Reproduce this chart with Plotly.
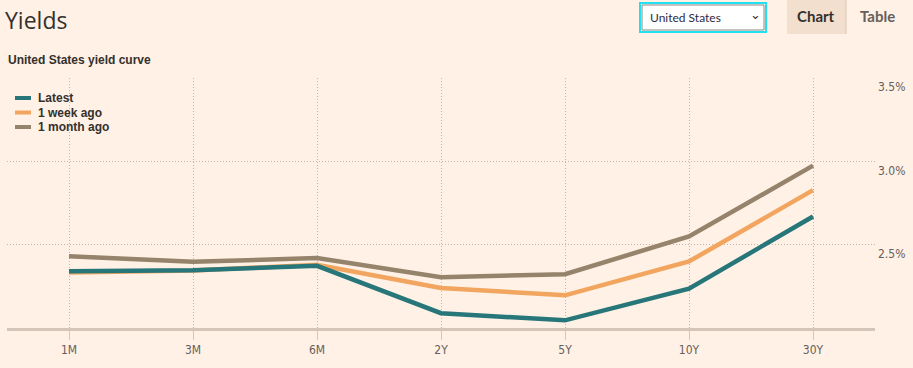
import plotly.graph_objects as go

categories = ["1M", "3M", "6M", "2Y", "5Y", "10Y", "30Y"]
latest = [2.34, 2.347, 2.373, 2.089, 2.046, 2.236, 2.669]
week_ago = [2.333, 2.345, 2.379, 2.24, 2.196, 2.399, 2.827]
month_ago = [2.43, 2.397, 2.42, 2.305, 2.323, 2.549, 2.974]
ytick_vals = [2.5, 3.0, 3.5]
ytick_text = ["2.5%", "3.0%", "3.5%"]

W, H = 913, 368
L, R, T, B = 7, 38, 78, 40
pw, ph = W - L - R, H - T - B


def px(x):
    return (x - L) / pw


def py(y):
    return (H - B - y) / ph


fig = go.Figure()
series = [("Latest", latest, "#26767a"), ("1 week ago", week_ago, "#f2a55e"),
          ("1 month ago", month_ago, "#96836b")]
# draw older series first so "Latest" sits on top
for name, vals, col in reversed(series):
    fig.add_trace(go.Scatter(x=categories, y=vals, name=name, mode="lines",
                             line=dict(color=col, width=4.5), showlegend=False))

shapes = [
    # dropdown
    dict(type="rect", xref="paper", yref="paper", x0=px(640), x1=px(766), y0=py(32), y1=py(3),
         line=dict(color="#1fe1f0", width=2), fillcolor="#ffffff", layer="above"),
    dict(type="rect", xref="paper", yref="paper", x0=px(642), x1=px(764), y0=py(30), y1=py(5),
         line=dict(color="#8a8580", width=1), fillcolor="#ffffff", layer="above"),
    # chart button
    dict(type="rect", xref="paper", yref="paper", x0=px(787), x1=px(846), y0=py(34), y1=py(0),
         line=dict(width=0), fillcolor="#f2dfce", layer="above"),
    dict(type="line", xref="paper", yref="paper", x0=px(846), x1=px(846), y0=py(34), y1=py(0),
         line=dict(color="#d9c8b8", width=1), layer="above"),
]

annotations = [
    dict(text="Yields", xref="paper", yref="paper", x=px(3), y=py(20), xanchor="left", yanchor="middle",
         showarrow=False, font=dict(family="Open Sans", size=23, color="#33302e")),
    dict(text="<b>United States yield curve</b>", xref="paper", yref="paper", x=px(6), y=py(60),
         xanchor="left", yanchor="middle", showarrow=False,
         font=dict(family="Liberation Sans", size=12, color="#33302e")),
    dict(text="United States", xref="paper", yref="paper", x=px(648), y=py(17), xanchor="left",
         yanchor="middle", showarrow=False, font=dict(family="Lato", size=12, color="#2e2a45")),
    dict(text="⌄", xref="paper", yref="paper", x=px(755), y=py(14), xanchor="center",
         yanchor="middle", showarrow=False, font=dict(family="DejaVu Sans", size=13, color="#33302e")),
    dict(text="<b>Chart</b>", xref="paper", yref="paper", x=px(816), y=py(16), xanchor="center",
         yanchor="middle", showarrow=False, font=dict(family="Lato", size=15, color="#33302e")),
    dict(text="<b>Table</b>", xref="paper", yref="paper", x=px(877), y=py(16), xanchor="center",
         yanchor="middle", showarrow=False, font=dict(family="Lato", size=15, color="#66605c")),
]

# legend drawn as swatches + labels
for i, (name, vals, col) in enumerate(series):
    yy = 98 + i * 14.5
    shapes.append(dict(type="line", xref="paper", yref="paper", x0=px(15), x1=px(31), y0=py(yy), y1=py(yy),
                       line=dict(color=col, width=4)))
    annotations.append(dict(text="<b>%s</b>" % name, xref="paper", yref="paper", x=px(36), y=py(yy),
                            xanchor="left", yanchor="middle", showarrow=False,
                            font=dict(family="Liberation Sans", size=12, color="#33302e")))

fig.update_layout(
    width=W, height=H,
    margin=dict(l=L, r=R, t=T, b=B),
    paper_bgcolor="#fff1e5", plot_bgcolor="#fff1e5",
    shapes=shapes, annotations=annotations,
    showlegend=False,
    xaxis=dict(type="category", range=[-0.5, 6.5], showgrid=True, griddash="1px,2px",
               gridcolor="#c2b5aa", gridwidth=1, showline=True, linecolor="#d4c5b8", linewidth=3,
               ticks="outside", ticklen=9, tickcolor="#d4c5b8", tickwidth=1,
               tickfont=dict(family="DejaVu Sans Condensed, Liberation Sans", size=12, color="#66605c"),
               fixedrange=True, zeroline=False),
    yaxis=dict(range=[2.0, 3.5], side="right", tickvals=ytick_vals, ticktext=ytick_text,
               showgrid=True, griddash="1px,2px", gridcolor="#c2b5aa", gridwidth=1,
               showline=False, zeroline=False, ticks="", ticklabelstandoff=2,
               ticklabelshift=9, fixedrange=True,
               tickfont=dict(family="DejaVu Sans Condensed, Liberation Sans", size=12, color="#66605c")),
)

fig.write_html("out.html", config={"displayModeBar": False},
               post_script="document.body.style.margin='0';document.body.style.padding='0';")
